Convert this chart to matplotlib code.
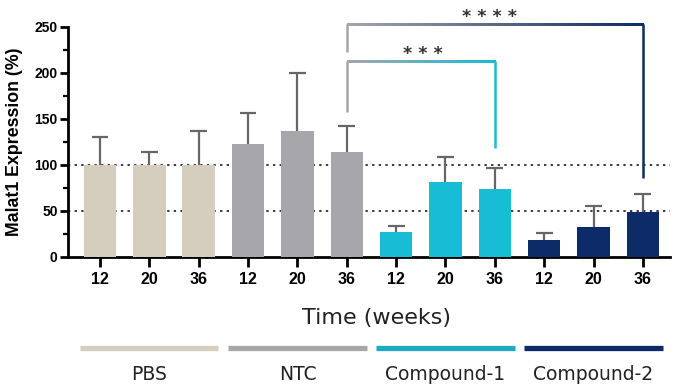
import matplotlib
matplotlib.use("Agg")
import matplotlib.pyplot as plt
import numpy as np
from matplotlib.colors import to_rgb
from matplotlib.ticker import MultipleLocator

groups = ["PBS", "NTC", "Compound-1", "Compound-2"]
timepoints = ["12", "20", "36"]
values = {
    "PBS": [100, 100, 100],
    "NTC": [123, 137, 114],
    "Compound-1": [27, 81, 74],
    "Compound-2": [19, 33, 49],
}
err_tops = {
    "PBS": [130, 114, 137],
    "NTC": [157, 200, 142],
    "Compound-1": [34, 109, 97],
    "Compound-2": [26, 55, 68],
}
colors = {
    "PBS": "#D5CDBD",
    "NTC": "#A6A6AB",
    "Compound-1": "#18BCD4",
    "Compound-2": "#0C2B68",
}
legend_colors = {
    "PBS": "#D5CDBD",
    "NTC": "#A6A6AB",
    "Compound-1": "#1DAAC2",
    "Compound-2": "#0C2B68",
}
ref_lines = [100, 50]
# comparisons: (from bar, to bar, bracket height, left leg bottom, right leg bottom, label, group, label x, label y)
comparisons = [
    (5, 8, 212, 158, 118, "* * *", "Compound-1", 6.55, 215),
    (5, 11, 252, 223, 86, "* * * *", "Compound-2", 7.9, 255.5),
]

fig = plt.figure(figsize=(6.74, 3.88), dpi=100)
ax = fig.add_axes([68/674, 1-257/388, (670-68)/674, 230/388])

sans = ["Liberation Sans", "DejaVu Sans"]

xs = []
labels = []
i = 0
for g in groups:
    pos = np.arange(i, i + len(timepoints))
    v = np.array(values[g])
    e = np.array(err_tops[g])
    ax.vlines(pos, v, e, color="#666666", lw=1.6, zorder=2)
    ax.hlines(e, pos - 0.17, pos + 0.17, color="#666666", lw=1.6, zorder=2)
    ax.bar(pos, v, width=0.66, color=colors[g], zorder=3)
    xs.extend(pos)
    labels.extend(timepoints)
    i += len(timepoints)

for r in ref_lines:
    ax.axhline(r, color="#3A3A3A", lw=1.4, ls=(0, (1.2, 2.2)), zorder=1)

# significance brackets with gradient
gray = np.array(to_rgb(colors["NTC"]))
half = 1.2  # half line thickness in data units
for (a, b, h, lb, rb, lab, g, tx, ty) in comparisons:
    c2 = np.array(to_rgb(colors[g]))
    t = np.linspace(0, 1, 256)
    grad = gray[None, :] * (1 - t[:, None]) + c2[None, :] * t[:, None]
    ax.imshow(grad[None, :, :], extent=[a, b, h - half, h + half], aspect="auto",
              interpolation="bilinear", clip_on=False, zorder=4)
    ax.plot([a, a], [lb, h + half], color=gray, lw=1.8, solid_capstyle="butt",
            clip_on=False, zorder=4)
    ax.plot([b, b], [h + half, rb], color=c2, lw=1.8, solid_capstyle="butt",
            clip_on=False, zorder=4)
    ax.text(tx, ty, lab, ha="center", va="baseline", fontsize=12.5, fontweight="bold",
            color="#333333", fontfamily="DejaVu Sans", clip_on=False)

ax.set_xlim(-0.65, 11.55)
ax.set_ylim(0, 250)
ax.set_aspect("auto")
ax.set_xticks(xs)
ax.set_xticklabels(labels, fontfamily=sans, fontweight="bold", fontsize=11.5)
ax.yaxis.set_major_locator(MultipleLocator(50))
ax.yaxis.set_minor_locator(MultipleLocator(25))
for lab in ax.get_yticklabels():
    lab.set_fontfamily(sans)
    lab.set_fontweight("bold")
    lab.set_fontsize(10)
ax.tick_params(axis="x", which="major", direction="out", length=7, width=2, color="black", pad=3.5)
ax.tick_params(axis="y", which="major", direction="out", length=6, width=2, color="black", pad=1.5)
ax.tick_params(axis="y", which="minor", direction="out", length=3.5, width=1.6, color="black")
for s in ["top", "right"]:
    ax.spines[s].set_visible(False)
for s in ["left", "bottom"]:
    ax.spines[s].set_linewidth(2)
ax.set_ylabel("Malat1 Expression (%)", fontfamily=sans, fontweight="bold", fontsize=12.8)
ax.yaxis.set_label_coords(-0.074, 0.5)

# x label
trans = ax.get_xaxis_transform()
ax.text(5.6, (257-318)/230, "Time (weeks)", transform=trans, ha="center",
        va="center", fontsize=16, fontfamily="DejaVu Sans", color="#222222")

# group legend bars below
for k, g in enumerate(groups):
    c = k * 3 + 1
    ax.plot([c - 1.4, c + 1.4], [(257-347.5)/230]*2, transform=trans, color=legend_colors[g],
            lw=3.8, solid_capstyle="butt", clip_on=False)
    ax.text(c, (257-374)/230, g, transform=trans, ha="center", va="center", fontsize=13.5,
            fontfamily="DejaVu Sans", color="#222222")

fig.savefig("out.png", dpi=100)
